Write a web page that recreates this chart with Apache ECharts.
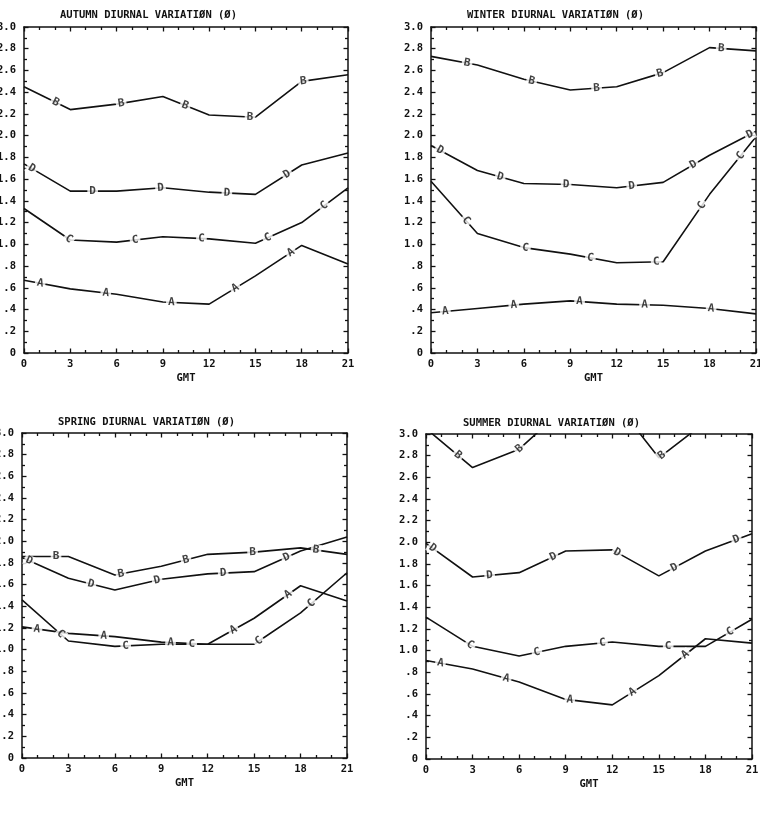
<!DOCTYPE html>
<html><head><meta charset="utf-8">
<script src="https://cdn.jsdelivr.net/npm/echarts@6/dist/echarts.min.js"></script>
<style>html,body{margin:0;padding:0;background:#fff}#c{width:760px;height:814px}</style>
</head><body><div id="c"></div>
<script>
// ---- data (GMT hours, values) ----
var hours = [0, 3, 6, 9, 12, 15, 18, 21];
var xTicks = ['0', '3', '6', '9', '12', '15', '18', '21'];
var seriesNames = ['A', 'B', 'C', 'D'];
var panelTitles = ['AUTUMN DIURNAL VARIATIØN (Ø)', 'WINTER DIURNAL VARIATIØN (Ø)', 'SPRING DIURNAL VARIATIØN (Ø)', 'SUMMER DIURNAL VARIATIØN (Ø)'];

var autumnA = [0.67, 0.59, 0.54, 0.47, 0.45, 0.71, 0.99, 0.82];
var autumnB = [2.45, 2.24, 2.29, 2.36, 2.19, 2.17, 2.50, 2.56];
var autumnC = [1.33, 1.04, 1.02, 1.07, 1.05, 1.01, 1.20, 1.52];
var autumnD = [1.74, 1.49, 1.49, 1.52, 1.48, 1.46, 1.73, 1.84];

var winterA = [0.37, 0.41, 0.45, 0.48, 0.45, 0.44, 0.41, 0.36];
var winterB = [2.73, 2.65, 2.52, 2.42, 2.45, 2.58, 2.81, 2.78];
var winterC = [1.58, 1.10, 0.97, 0.91, 0.83, 0.84, 1.46, 1.99];
var winterD = [1.91, 1.68, 1.56, 1.55, 1.52, 1.57, 1.82, 2.04];

var springA = [1.21, 1.15, 1.12, 1.07, 1.05, 1.29, 1.59, 1.45];
var springB = [1.86, 1.86, 1.69, 1.77, 1.88, 1.90, 1.94, 1.88];
var springC = [1.46, 1.08, 1.03, 1.05, 1.05, 1.05, 1.34, 1.71];
var springD = [1.85, 1.66, 1.55, 1.65, 1.70, 1.72, 1.91, 2.04];

var summerA = [0.91, 0.83, 0.71, 0.55, 0.50, 0.77, 1.11, 1.07];
var summerB = [3.05, 2.69, 2.86, 3.25, 3.33, 2.78, 3.11, 3.20];
var summerC = [1.31, 1.04, 0.95, 1.04, 1.08, 1.04, 1.04, 1.29];
var summerD = [1.99, 1.68, 1.72, 1.92, 1.93, 1.69, 1.92, 2.08];

// hour positions of the curve letters along each line
var autumnLabA = [1.05, 5.3, 9.55, 13.7, 17.3];
var autumnLabB = [2.05, 6.3, 10.45, 14.65, 18.1];
var autumnLabC = [2.9, 7.2, 11.5, 15.8, 19.45];
var autumnLabD = [0.5, 4.45, 8.85, 13.15, 17.05];

var winterLabA = [0.93, 5.35, 9.6, 13.8, 18.1];
var winterLabB = [2.33, 6.5, 10.7, 14.8, 18.75];
var winterLabC = [2.26, 6.1, 10.3, 14.55, 17.5, 20.0];
var winterLabD = [0.58, 4.48, 8.73, 12.97, 16.96, 20.6];

var springLabA = [0.97, 5.28, 9.6, 13.66, 17.2];
var springLabB = [2.2, 6.4, 10.6, 14.9, 19.0];
var springLabC = [2.5, 6.7, 10.97, 15.3, 18.7];
var springLabD = [0.47, 4.46, 8.73, 13.0, 17.1];

var summerLabA = [0.93, 5.17, 9.26, 13.3, 16.7];
var summerLabB = [2.05, 6.03, 15.2];
var summerLabC = [2.84, 7.15, 11.37, 15.6, 19.6];
var summerLabD = [0.43, 4.1, 8.2, 12.3, 16.0, 20.0];

var panels = [
  {vals: [autumnA, autumnB, autumnC, autumnD], labs: [autumnLabA, autumnLabB, autumnLabC, autumnLabD]},
  {vals: [winterA, winterB, winterC, winterD], labs: [winterLabA, winterLabB, winterLabC, winterLabD]},
  {vals: [springA, springB, springC, springD], labs: [springLabA, springLabB, springLabC, springLabD]},
  {vals: [summerA, summerB, summerC, summerD], labs: [summerLabA, summerLabB, summerLabC, summerLabD]}
];

// ---- layout ----
var grids = [
  {left: 24, top: 27, width: 324, height: 326},
  {left: 431, top: 27, width: 325, height: 326},
  {left: 22, top: 433, width: 325, height: 325},
  {left: 426, top: 434, width: 326, height: 325}
];
var titlePos = [[60, 10], [467, 10], [58, 417], [463, 418]];
var FONT = '"DejaVu Sans Mono", monospace';
var INK = '#111';

function yFmt(v) {
  if (Math.abs(v) < 1e-9) return '0';
  var s = v.toFixed(1);
  return v < 1 ? s.replace(/^0/, '') : s;
}

function interp(xs, ys, x) {
  for (var i = 0; i < xs.length - 1; i++) {
    if (x >= xs[i] && x <= xs[i + 1]) {
      var t = (x - xs[i]) / (xs[i + 1] - xs[i]);
      return {y: ys[i] + t * (ys[i + 1] - ys[i]), slope: (ys[i + 1] - ys[i]) / (xs[i + 1] - xs[i])};
    }
  }
  return {y: ys[ys.length - 1], slope: 0};
}

var option = {
  backgroundColor: '#fff',
  animation: false,
  title: [], grid: [], xAxis: [], yAxis: [], series: []
};

panels.forEach(function (p, k) {
  var g = grids[k];
  option.grid.push({left: g.left, top: g.top, width: g.width, height: g.height,
    containLabel: false, outerBoundsMode: 'none'});
  option.title.push({text: panelTitles[k], left: titlePos[k][0], top: titlePos[k][1], padding: 0,
    textStyle: {fontFamily: FONT, fontSize: 10.5, fontWeight: 'bold', color: INK}});
  var common = {
    gridIndex: k, min: 0, max: 21, interval: 3, type: 'value',
    axisLine: {show: true, onZero: false, lineStyle: {color: INK, width: 1.5}},
    axisTick: {show: true, inside: true, length: 4.5, lineStyle: {color: INK, width: 1.3}},
    minorTick: {show: true, splitNumber: 3, length: 3, lineStyle: {color: INK, width: 1.3}},
    splitLine: {show: false}
  };
  option.xAxis.push(Object.assign({}, common, {position: 'bottom', name: 'GMT', nameLocation: 'middle', nameGap: 20,
    nameTextStyle: {fontFamily: FONT, fontSize: 10.5, fontWeight: 'bold', color: INK},
    axisLabel: {show: true, margin: 6, fontFamily: FONT, fontSize: 10.5, fontWeight: 'bold', color: INK,
      formatter: function (v) { return xTicks[hours.indexOf(v)] || ''; }}}));
  option.xAxis.push(Object.assign({}, common, {position: 'top', axisLabel: {show: false}}));
  var ycommon = {
    gridIndex: k, min: 0, max: 3, interval: 0.2, type: 'value',
    axisLine: {show: true, onZero: false, lineStyle: {color: INK, width: 1.5}},
    axisTick: {show: true, inside: true, length: 4.5, lineStyle: {color: INK, width: 1.3}},
    minorTick: {show: true, splitNumber: 2, length: 3, lineStyle: {color: INK, width: 1.3}},
    splitLine: {show: false}
  };
  option.yAxis.push(Object.assign({}, ycommon, {position: 'left',
    axisLabel: {show: true, margin: 8, fontFamily: FONT, fontSize: 10.5, fontWeight: 'bold', color: INK, formatter: yFmt}}));
  option.yAxis.push(Object.assign({}, ycommon, {position: 'right', axisLabel: {show: false}}));

  var pxPerHour = g.width / 21, pxPerUnit = g.height / 3;
  p.vals.forEach(function (vals, s) {
    option.series.push({
      type: 'line', xAxisIndex: 2 * k, yAxisIndex: 2 * k, clip: true,
      data: hours.map(function (h, i) { return [h, vals[i]]; }),
      symbol: 'none', lineStyle: {color: INK, width: 1.6}, z: 2
    });
    var pts = p.labs[s].map(function (x) {
      var r = interp(hours, vals, x);
      var ang = Math.atan2(r.slope * pxPerUnit, pxPerHour) * 180 / Math.PI;
      return {value: [x, r.y], label: {rotate: ang}};
    });
    option.series.push({
      type: 'scatter', xAxisIndex: 2 * k, yAxisIndex: 2 * k, symbolSize: 0, z: 5,
      data: pts,
      label: {show: true, position: 'inside', formatter: seriesNames[s],
        fontFamily: FONT, fontSize: 11, fontWeight: 'bold', color: INK, backgroundColor: '#fff', padding: [0, 2]}
    });
  });
});

var chart = echarts.init(document.getElementById('c'), null, {renderer: 'canvas'});
chart.setOption(option);
</script>
</body></html>
